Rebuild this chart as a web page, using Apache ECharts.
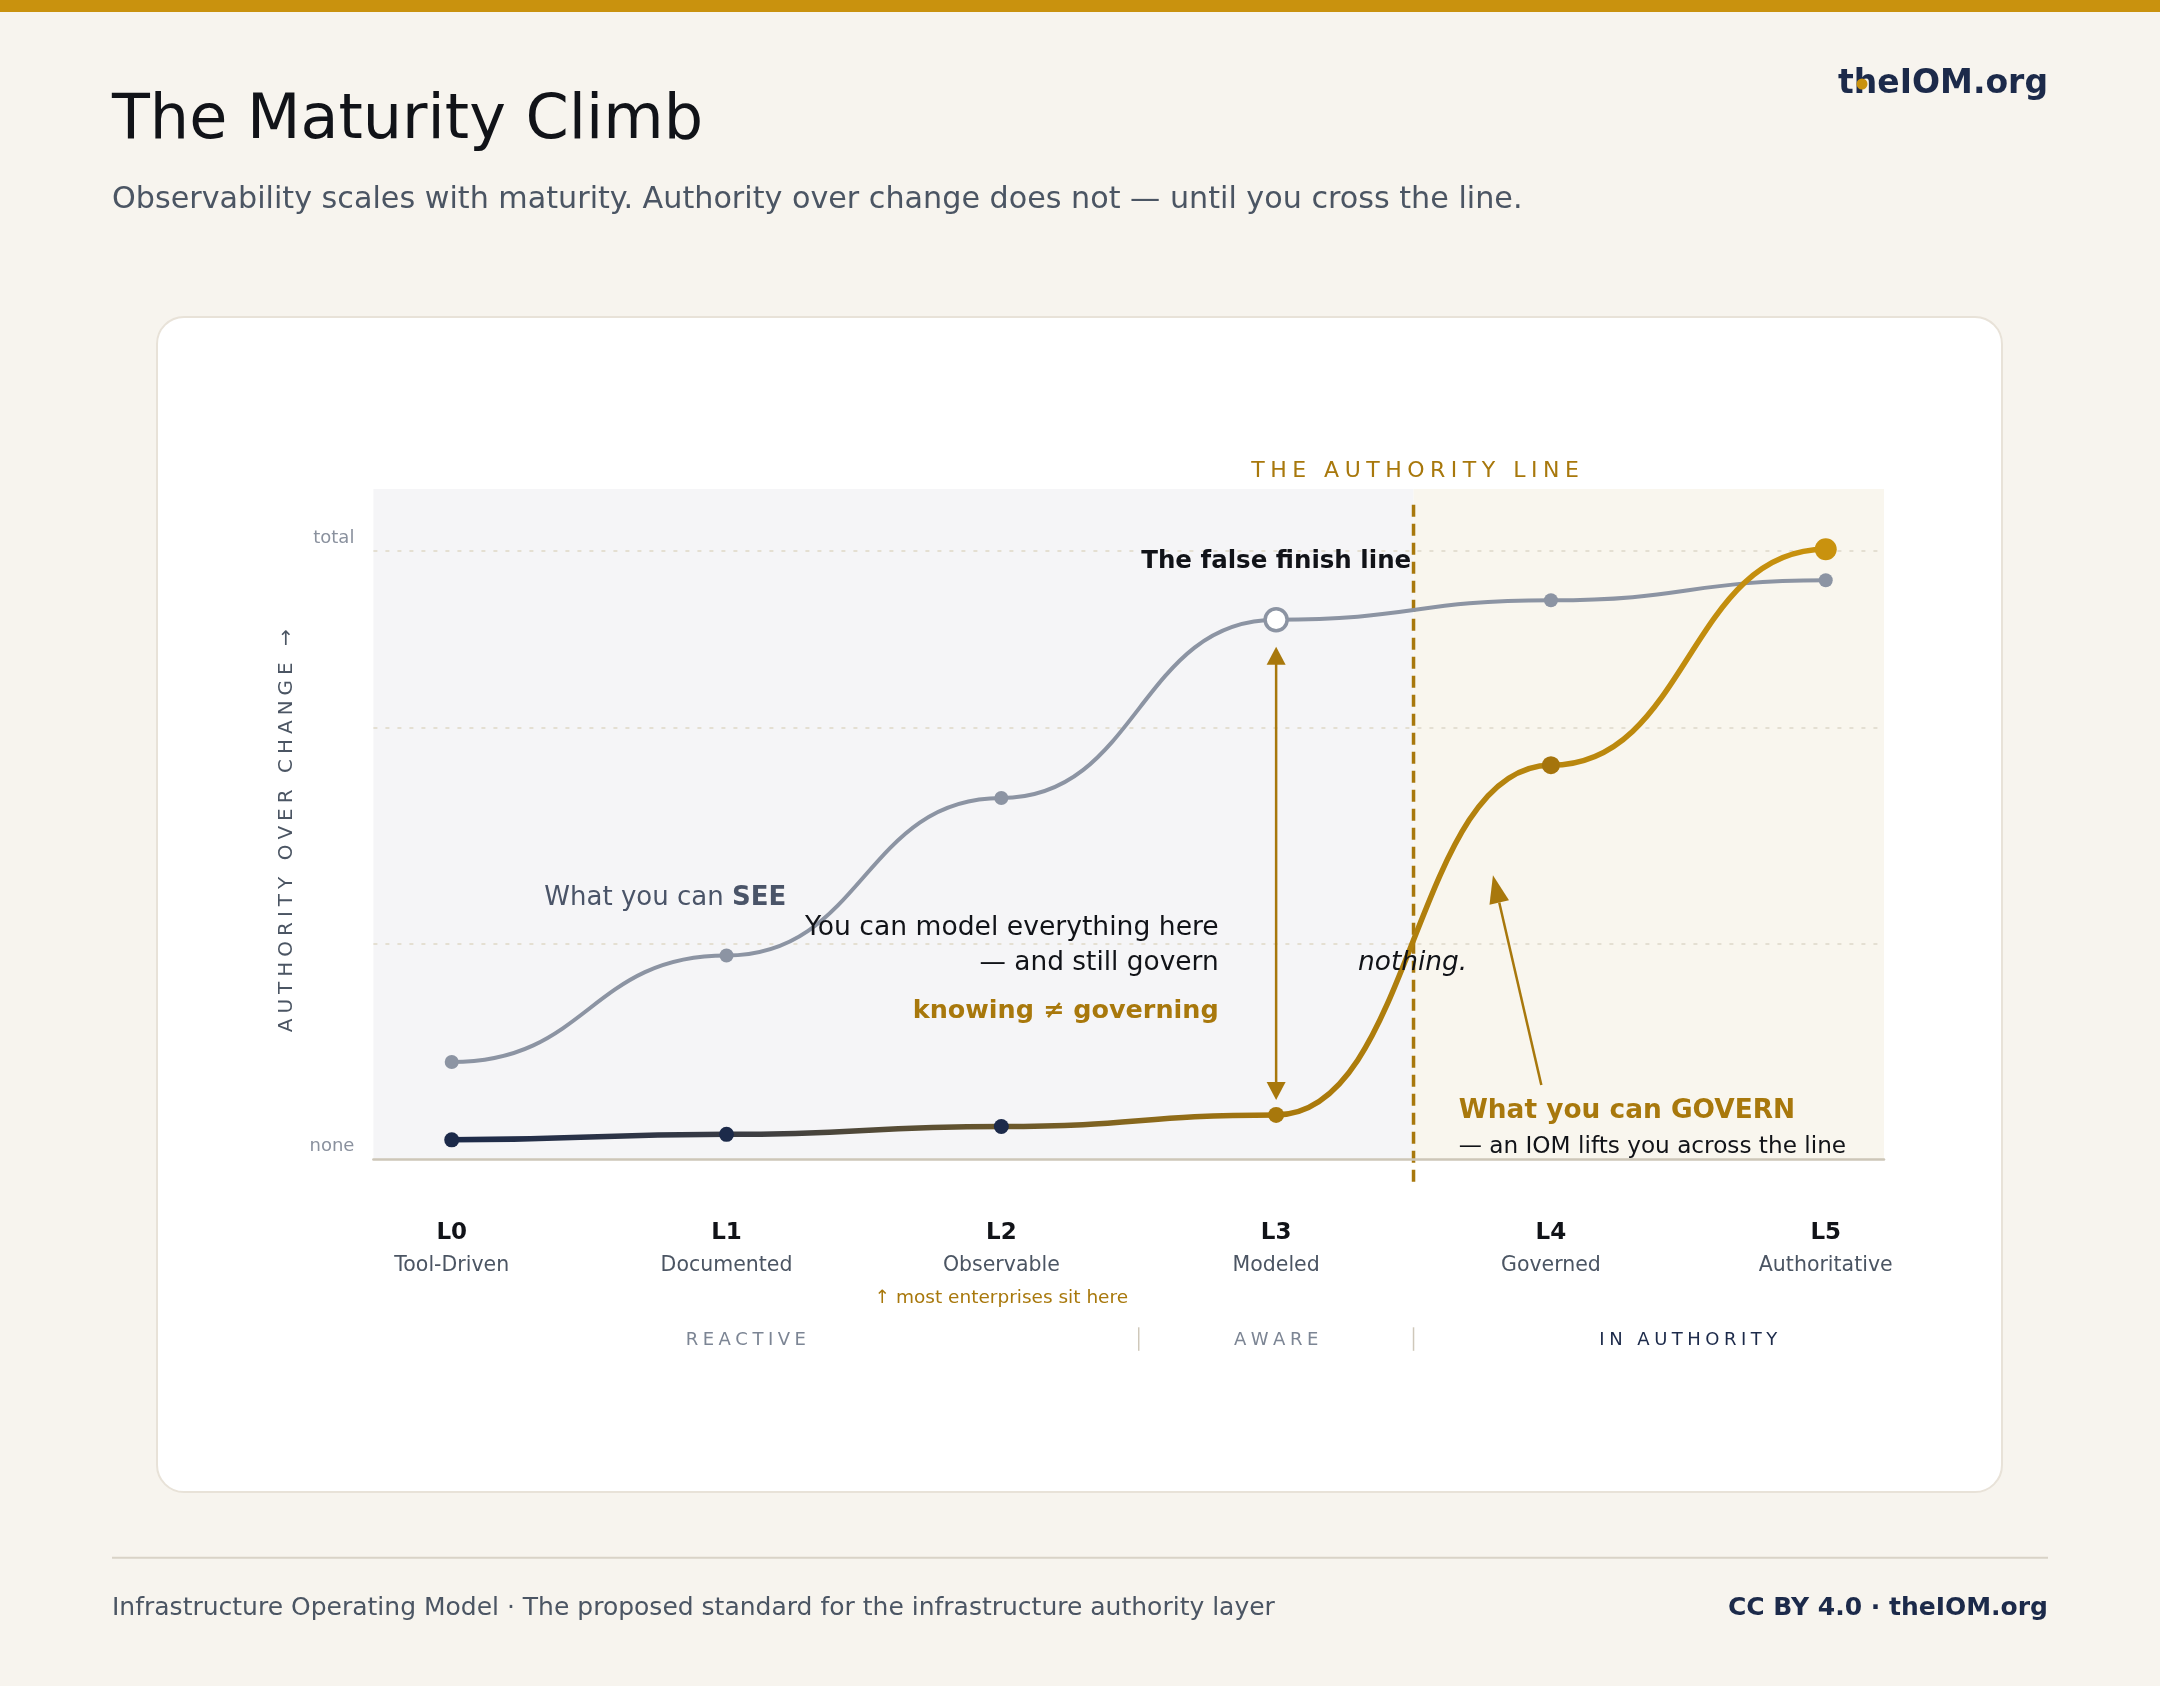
<!DOCTYPE html>
<html>
<head>
<meta charset="utf-8">
<title>The Maturity Climb</title>
<script src="https://cdn.jsdelivr.net/npm/echarts@6/dist/echarts.min.js"></script>
<style>
  html, body { margin: 0; padding: 0; background: #f7f4ee; }
  #main { width: 2160px; height: 1686px; }
</style>
</head>
<body>
<div id="main"></div>
<script>
// maturity levels along x
var levels = ['L0', 'L1', 'L2', 'L3', 'L4', 'L5'];
var levelNames = ['Tool-Driven', 'Documented', 'Observable', 'Modeled', 'Governed', 'Authoritative'];
var levelNotes = ['', '', '↑ most enterprises sit here', '', '', ''];
var levelX = [0, 1, 2, 3, 4, 5];

// authority over change, 0 = none, 100 = total
var seeValues = [16.0, 33.5, 59.4, 88.7, 91.9, 95.2];
var governValues = [3.2, 4.1, 5.4, 7.3, 64.8, 100.3];

var yTicks = [0, 100];
var yTickLabels = ['none', 'total'];
var gridLineValues = [35.4, 70.9, 100];

var authorityX = 3.5;
var phases = ['REACTIVE', 'AWARE', 'IN AUTHORITY'];
var phaseX = [1.07, 3, 4.5];
var phaseDividers = [2.5, 3.5];

var X_MIN = -0.285, X_MAX = 5.212, Y_MAX = 110.2;
var FONT = 'DejaVu Sans';
var GOLD = '#a8780c', GOLD_BRIGHT = '#c9920e', NAVY = '#1c2a4a';
var SLATE = '#8c94a3', INK = '#111318', MUTED = '#4b5563';

function spaced(s) { return s.split('').join('\u2005'); }

function arrowHead(tip, from, len, half) {
  var dx = tip[0] - from[0], dy = tip[1] - from[1];
  var d = Math.sqrt(dx * dx + dy * dy), ux = dx / d, uy = dy / d;
  var bx = tip[0] - ux * len, by = tip[1] - uy * len;
  return [[tip[0], tip[1]], [bx - uy * half, by + ux * half], [bx + uy * half, by - ux * half]];
}

// bump curve: horizontal tangents at every point
function curveSeries(values, z, width, strokeFn) {
  return {
    type: 'custom', coordinateSystem: 'cartesian2d', z: z, silent: true, clip: false,
    data: levelX.map(function (x, i) { return [x, values[i]]; }),
    renderItem: function (params, api) {
      if (params.dataIndex !== 0) return null;
      var pts = levelX.map(function (x, i) { return api.coord([x, values[i]]); });
      var stroke = strokeFn(pts);
      var kids = [];
      for (var i = 1; i < pts.length; i++) {
        var mx = (pts[i - 1][0] + pts[i][0]) / 2;
        kids.push({
          type: 'bezierCurve',
          shape: { x1: pts[i - 1][0], y1: pts[i - 1][1], cpx1: mx, cpy1: pts[i - 1][1],
                   cpx2: mx, cpy2: pts[i][1], x2: pts[i][0], y2: pts[i][1] },
          style: { fill: 'none', stroke: stroke, lineWidth: width, lineCap: 'round' }
        });
      }
      return { type: 'group', children: kids };
    }
  };
}

var seeDot = function (i) {
  if (i === 3) return { symbolSize: 22, itemStyle: { color: '#fff', borderColor: SLATE, borderWidth: 3.5, opacity: 1 } };
  return { symbolSize: 14, itemStyle: { color: SLATE, opacity: 1 } };
};
var governDotColors = [NAVY, NAVY, NAVY, GOLD, '#a5740c', GOLD_BRIGHT];
var governDotSizes = [15, 15, 15, 16, 18, 22];

var chart = echarts.init(document.getElementById('main'));

var option = {
  backgroundColor: '#f7f4ee',
  animation: false,
  textStyle: { fontFamily: FONT },
  grid: { left: 373.4, top: 489, width: 1510.6, height: 670.3, containLabel: false, outerBoundsMode: 'none' },
  xAxis: {
    type: 'value', min: X_MIN, max: X_MAX, z: 3,
    axisLine: { show: true, lineStyle: { color: '#cdc6b8', width: 2.5 } },
    axisTick: { show: false },
    splitLine: { show: false },
    axisLabel: {
      customValues: levelX,
      margin: 57,
      formatter: function (v) {
        var i = levelX.indexOf(v);
        if (i < 0) return '';
        var s = '{a|' + levels[i] + '}\n{b|' + levelNames[i] + '}';
        if (levelNotes[i]) s += '\n{c|' + levelNotes[i] + '}';
        return s;
      },
      rich: {
        a: { fontFamily: FONT, fontSize: 23, fontWeight: 'bold', color: INK, lineHeight: 33 },
        b: { fontFamily: FONT, fontSize: 20.5, color: MUTED, lineHeight: 32 },
        c: { fontFamily: FONT, fontSize: 18.5, color: GOLD, lineHeight: 34 }
      }
    }
  },
  yAxis: {
    type: 'value', min: 0, max: Y_MAX,
    axisLine: { show: false }, axisTick: { show: false }, splitLine: { show: false },
    axisLabel: {
      customValues: yTicks, margin: 19, fontSize: 18, color: '#8a919e',
      verticalAlign: 'bottom', lineHeight: 26,
      formatter: function (v) { var i = yTicks.indexOf(v); return i < 0 ? '' : yTickLabels[i]; }
    }
  },
  graphic: [
    { type: 'rect', z: -5, shape: { x: 0, y: 0, width: 2160, height: 12 }, style: { fill: GOLD_BRIGHT } },
    { type: 'rect', z: -5, shape: { x: 157, y: 317, width: 1845, height: 1175, r: 27 },
      style: { fill: '#ffffff', stroke: '#e8e2d8', lineWidth: 2 } },
    { type: 'text', z: 10, x: 112, y: 121.5,
      style: { text: 'The Maturity Climb', fill: INK, fontFamily: FONT, fontSize: 62, verticalAlign: 'middle' } },
    { type: 'text', z: 10, x: 112, y: 200.5,
      style: { text: 'Observability scales with maturity. Authority over change does not — until you cross the line.',
               fill: MUTED, fontFamily: FONT, fontSize: 30.2, verticalAlign: 'middle' } },
    { type: 'text', z: 10, x: 2048, y: 84.5,
      style: { text: 'theIOM.org', fill: NAVY, fontFamily: FONT, fontSize: 33, fontWeight: 'bold',
               align: 'right', verticalAlign: 'middle' } },
    { type: 'circle', z: 11, shape: { cx: 1862, cy: 84, r: 5.5 }, style: { fill: GOLD_BRIGHT } },
    { type: 'line', z: 10, shape: { x1: 112, y1: 1557.7, x2: 2048, y2: 1557.7 }, style: { stroke: '#d9d3c7', lineWidth: 2 } },
    { type: 'text', z: 10, x: 112, y: 1608.5,
      style: { text: 'Infrastructure Operating Model · The proposed standard for the infrastructure authority layer',
               fill: MUTED, fontFamily: FONT, fontSize: 25, verticalAlign: 'middle' } },
    { type: 'text', z: 10, x: 2048, y: 1608.5,
      style: { text: 'CC BY 4.0 · theIOM.org', fill: NAVY, fontFamily: FONT, fontSize: 25, fontWeight: 'bold',
               align: 'right', verticalAlign: 'middle' } },
    { type: 'text', z: 10, x: 286.5, y: 830.7, rotation: Math.PI / 2,
      style: { text: spaced('AUTHORITY OVER CHANGE →'), fill: MUTED, fontFamily: FONT, fontSize: 20,
               align: 'center', verticalAlign: 'middle' } },
    { type: 'text', z: 10, x: 1415, y: 471.5,
      style: { text: spaced('THE AUTHORITY LINE'), fill: GOLD, fontFamily: FONT, fontSize: 22,
               align: 'center', verticalAlign: 'middle' } },
    { type: 'text', z: 10, x: 1411.2, y: 561.5,
      style: { text: 'The false finish line', fill: INK, fontFamily: FONT, fontSize: 24.5, fontWeight: 'bold',
               align: 'right', verticalAlign: 'middle' } },
    { type: 'text', z: 10, x: 786.2, y: 898.5,
      style: { text: 'What you can {b|SEE}', fill: '#4a5468', fontFamily: FONT, fontSize: 26,
               align: 'right', verticalAlign: 'middle',
               rich: { b: { fontFamily: FONT, fontSize: 26, fontWeight: 'bold', fill: '#4a5468' } } } },
    { type: 'text', z: 10, x: 1218.7, y: 928.5,
      style: { text: 'You can model everything here', fill: INK, fontFamily: FONT, fontSize: 26.6,
               align: 'right', verticalAlign: 'middle' } },
    { type: 'text', z: 10, x: 1218.7, y: 963,
      style: { text: '— and still govern', fill: INK, fontFamily: FONT, fontSize: 26.4,
               align: 'right', verticalAlign: 'middle' } },
    { type: 'text', z: 10, x: 1412.6, y: 963,
      style: { text: 'nothing.', fill: INK, fontFamily: FONT, fontSize: 26.4, fontStyle: 'italic',
               align: 'center', verticalAlign: 'middle' } },
    { type: 'text', z: 10, x: 1218.7, y: 1011.5,
      style: { text: 'knowing ≠ governing', fill: GOLD, fontFamily: FONT, fontSize: 25.5, fontWeight: 'bold',
               align: 'right', verticalAlign: 'middle' } },
    { type: 'text', z: 10, x: 1458.7, y: 1111,
      style: { text: 'What you can GOVERN', fill: GOLD, fontFamily: FONT, fontSize: 26.4, fontWeight: 'bold',
               verticalAlign: 'middle' } },
    { type: 'text', z: 10, x: 1458.7, y: 1147,
      style: { text: '— an IOM lifts you across the line', fill: INK, fontFamily: FONT, fontSize: 23.2,
               verticalAlign: 'middle' } }
  ],
  series: [
    // plot backgrounds and dotted gridlines
    {
      type: 'custom', coordinateSystem: 'cartesian2d', z: 1, silent: true, clip: false,
      data: [[0, 0]],
      renderItem: function (params, api) {
        var tl = api.coord([X_MIN, Y_MAX]), mid = api.coord([authorityX, 0]), br = api.coord([X_MAX, 0]);
        var kids = [
          { type: 'rect', shape: { x: tl[0], y: tl[1], width: mid[0] - tl[0], height: br[1] - tl[1] }, style: { fill: '#f5f5f7' } },
          { type: 'rect', shape: { x: mid[0], y: tl[1], width: br[0] - mid[0], height: br[1] - tl[1] }, style: { fill: '#f9f6ee' } }
        ];
        gridLineValues.forEach(function (v) {
          var a = api.coord([X_MIN, v]), b = api.coord([X_MAX, v]);
          kids.push({ type: 'line', shape: { x1: a[0], y1: a[1], x2: b[0], y2: b[1] },
                      style: { stroke: '#e4dfd2', lineWidth: 2, lineDash: [4, 8] } });
        });
        return { type: 'group', children: kids };
      }
    },
    // the authority line and phase dividers
    {
      type: 'custom', coordinateSystem: 'cartesian2d', z: 2, silent: true, clip: false,
      data: [[authorityX, 0]],
      renderItem: function (params, api) {
        var top = api.coord([authorityX, 107.6]), bot = api.coord([authorityX, -4.25]);
        var kids = [{ type: 'line', shape: { x1: top[0], y1: top[1], x2: bot[0], y2: bot[1] },
                      style: { stroke: GOLD, lineWidth: 3.5, lineDash: [12, 7] } }];
        phaseDividers.forEach(function (x) {
          var c = api.coord([x, 0]);
          kids.push({ type: 'line', shape: { x1: c[0], y1: c[1] + 168, x2: c[0], y2: c[1] + 191.5 },
                      style: { stroke: '#cfc8ba', lineWidth: 1.5 } });
        });
        return { type: 'group', children: kids };
      }
    },
    // phase labels
    {
      type: 'custom', coordinateSystem: 'cartesian2d', z: 2, silent: true, clip: false,
      data: phaseX.map(function (x) { return [x, 0]; }),
      renderItem: function (params, api) {
        var c = api.coord([api.value(0), 0]);
        var colors = ['#7c8594', '#7c8594', NAVY];
        return { type: 'text', x: c[0], y: c[1] + 181,
                 style: { text: spaced(phases[params.dataIndex]), fill: colors[params.dataIndex],
                          fontFamily: FONT, fontSize: 18, align: 'center', verticalAlign: 'middle' } };
      }
    },
    curveSeries(seeValues, 3, 4, function () { return SLATE; }),
    curveSeries(governValues, 4, 5.5, function (pts) {
      return new echarts.graphic.LinearGradient(pts[0][0], 0, pts[pts.length - 1][0], 0, [
        { offset: 0, color: NAVY },
        { offset: 0.2, color: '#383b44' },
        { offset: 0.42, color: '#6e5a2a' },
        { offset: 0.6, color: GOLD },
        { offset: 0.8, color: '#b8860e' },
        { offset: 1, color: GOLD_BRIGHT }
      ], true);
    }),
    {
      name: 'What you can see', type: 'scatter', z: 5, silent: true, symbol: 'circle',
      data: levelX.map(function (x, i) {
        var s = seeDot(i);
        return { value: [x, seeValues[i]], symbolSize: s.symbolSize, itemStyle: s.itemStyle };
      })
    },
    {
      name: 'What you can govern', type: 'scatter', z: 5, silent: true, symbol: 'circle',
      data: levelX.map(function (x, i) {
        return { value: [x, governValues[i]], symbolSize: governDotSizes[i],
                 itemStyle: { color: governDotColors[i], opacity: 1 } };
      })
    },
    // arrows
    {
      type: 'custom', coordinateSystem: 'cartesian2d', z: 6, silent: true, clip: false,
      data: [[3, 0]],
      renderItem: function (params, api) {
        var hi = api.coord([3, seeValues[3]]), lo = api.coord([3, governValues[3]]);
        var tipUp = [hi[0], hi[1] + 27], tipDown = [lo[0], lo[1] - 15];
        var from = api.coord([3.965, 12.2]), tip = api.coord([3.789, 46.7]);
        var headA = arrowHead(tipUp, tipDown, 18, 9.5);
        var headB = arrowHead(tipDown, tipUp, 18, 9.5);
        var headC = arrowHead(tip, from, 28, 10);
        return {
          type: 'group', children: [
            { type: 'line', shape: { x1: tipUp[0], y1: tipUp[1] + 16, x2: tipDown[0], y2: tipDown[1] - 16 },
              style: { stroke: GOLD, lineWidth: 2.5 } },
            { type: 'polygon', shape: { points: headA }, style: { fill: GOLD } },
            { type: 'polygon', shape: { points: headB }, style: { fill: GOLD } },
            { type: 'line', shape: { x1: from[0], y1: from[1], x2: (headC[1][0] + headC[2][0]) / 2, y2: (headC[1][1] + headC[2][1]) / 2 },
              style: { stroke: GOLD, lineWidth: 2.5 } },
            { type: 'polygon', shape: { points: headC }, style: { fill: GOLD } }
          ]
        };
      }
    }
  ]
};

chart.setOption(option);
</script>
</body>
</html>
